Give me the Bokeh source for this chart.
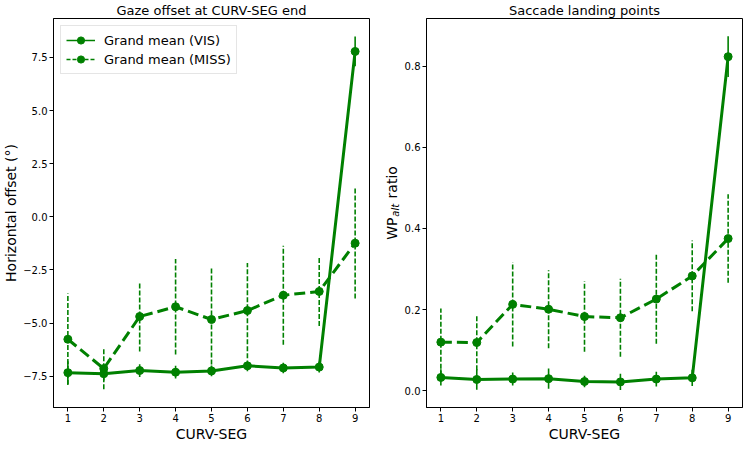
import numpy as np
from bokeh.plotting import figure
from bokeh.layouts import row
from bokeh.models import Range1d, FixedTicker, Legend, LegendItem, Label
from bokeh.embed import file_html
from bokeh.resources import INLINE

GREEN = "#008000"
FONT = "DejaVu Sans"

segs = [1, 2, 3, 4, 5, 6, 7, 8, 9]

gaze_vis = [-7.33, -7.38, -7.23, -7.31, -7.25, -7.01, -7.11, -7.07, 7.78]
gaze_vis_err = [0.53, 0.32, 0.3, 0.3, 0.25, 0.25, 0.25, 0.25, 0.7]
gaze_miss = [-5.76, -7.14, -4.69, -4.23, -4.83, -4.41, -3.69, -3.51, -1.24]
gaze_miss_err = [2.15, 0.97, 1.65, 2.25, 2.45, 2.24, 2.33, 1.63, 2.6]

land_vis = [0.033, 0.028, 0.029, 0.030, 0.023, 0.022, 0.029, 0.032, 0.823]
land_vis_err = [0.02, 0.025, 0.016, 0.025, 0.014, 0.02, 0.018, 0.02, 0.05]
land_miss = [0.120, 0.119, 0.213, 0.201, 0.183, 0.180, 0.226, 0.283, 0.375]
land_miss_err = [0.083, 0.068, 0.104, 0.096, 0.087, 0.096, 0.110, 0.087, 0.109]

gaze_yticks = [-7.5, -5.0, -2.5, 0.0, 2.5, 5.0, 7.5]
gaze_ylabels = ["\u22127.5", "\u22125.0", "\u22122.5", "0.0", "2.5", "5.0", "7.5"]
land_yticks = [0.0, 0.2, 0.4, 0.6, 0.8]
land_ylabels = ["0.0", "0.2", "0.4", "0.6", "0.8"]

FW, FH = 316, 389
BT, BB = 13, 38


def make_panel(title, yrange, yticks, ylabels, vis, vis_err, miss, miss_err,
               bl, br, ylabel, legend=False):
    p = figure(frame_width=FW, frame_height=FH, output_backend="svg",
               toolbar_location=None,
               x_range=Range1d(0.6, 9.4), y_range=yrange,
               min_border_left=bl, min_border_right=br, min_border_top=BT,
               min_border_bottom=BB, title=title)
    p.title.align = "center"
    p.title.text_font = FONT
    p.title.text_font_size = "13px"
    p.title.text_font_style = "normal"
    p.title.text_color = "black"
    p.title.standoff = 1
    p.grid.visible = False
    p.outline_line_color = "black"
    p.outline_line_width = 1
    p.background_fill_color = "white"
    p.border_fill_color = "white"
    for ax in (p.xaxis[0], p.yaxis[0]):
        ax.axis_line_color = "black"
        ax.major_tick_line_color = "black"
        ax.major_tick_in = 0
        ax.major_tick_out = 4
        ax.minor_tick_line_color = None
        ax.major_label_text_font = FONT
        ax.major_label_text_font_size = "10px"
        ax.major_label_text_color = "black"
        ax.axis_label_text_font = FONT
        ax.axis_label_text_font_size = "14px"
        ax.axis_label_text_font_style = "normal"
        ax.axis_label_text_color = "black"
        ax.major_label_standoff = 2
        ax.axis_label_standoff = 1
    p.xaxis.ticker = FixedTicker(ticks=segs)
    p.xaxis.axis_label = "CURV-SEG"
    p.yaxis.ticker = FixedTicker(ticks=yticks)
    p.yaxis.major_label_overrides = {t: l for t, l in zip(yticks, ylabels)}
    if ylabel:
        p.yaxis.axis_label = ylabel

    x = np.array(segs, dtype=float)
    v = np.array(vis); ve = np.array(vis_err)
    m = np.array(miss); me = np.array(miss_err)

    p.segment(x0=x, y0=v - ve, x1=x, y1=v + ve, line_color=GREEN, line_width=1.6)
    p.line(x, v, line_color=GREEN, line_width=3)
    p.scatter(x, v, size=8, fill_color=GREEN, line_color=GREEN)

    p.segment(x0=x, y0=m - me, x1=x, y1=m + me, line_color=GREEN, line_width=1.6,
              line_dash="5 2")
    p.line(x, m, line_color=GREEN, line_width=3, line_dash="11 5")
    p.scatter(x, m, size=8, fill_color=GREEN, line_color=GREEN)

    if legend:
        nan = [float("nan")]
        l1 = p.line(nan, nan, line_color=GREEN, line_width=1.5)
        s1 = p.scatter(nan, nan, size=7, fill_color=GREEN, line_color=GREEN)
        l2 = p.line(nan, nan, line_color=GREEN, line_width=1.5, line_dash="4 2")
        s2 = p.scatter(nan, nan, size=7, fill_color=GREEN, line_color=GREEN)
        leg = Legend(items=[LegendItem(label="Grand mean (VIS)", renderers=[l1, s1]),
                            LegendItem(label="Grand mean (MISS)", renderers=[l2, s2])],
                     location="top_left")
        leg.margin = 7
        leg.padding = 5
        leg.spacing = 1
        leg.glyph_width = 29
        leg.glyph_height = 18
        leg.label_standoff = 9
        leg.label_text_font = FONT
        leg.label_text_font_size = "13px"
        leg.label_text_color = "black"
        leg.label_height = 18
        leg.border_line_color = "#cccccc"
        leg.background_fill_alpha = 0.8
        p.add_layout(leg, "center")
    return p


p1 = make_panel("Gaze offset at CURV-SEG end", Range1d(-8.97, 9.33), gaze_yticks, gaze_ylabels,
                gaze_vis, gaze_vis_err, gaze_miss, gaze_miss_err,
                bl=42, br=10, ylabel="Horizontal offset (\u00b0)", legend=True)

land_range = Range1d(-0.041, 0.917)
p2 = make_panel("Saccade landing points", land_range, land_yticks, land_ylabels,
                land_vis, land_vis_err, land_miss, land_miss_err,
                bl=24, br=2, ylabel=None)

# narrow strip holding the y-axis label "WP_alt ratio" (italic subscript)
pl = figure(frame_width=22, frame_height=FH, output_backend="svg", toolbar_location=None,
            x_range=Range1d(0, 1), y_range=land_range,
            x_axis_location=None, y_axis_location=None,
            min_border_left=0, min_border_right=0, min_border_top=BT, min_border_bottom=BB)
pl.grid.visible = False
pl.outline_line_color = None
pl.add_layout(Label(x=12, y=0.372, text="WP", angle=np.pi / 2, text_font=FONT,
                    text_font_size="14px", text_align="left", text_baseline="middle",
                    text_color="black", x_units="screen", y_units="data"))
pl.add_layout(Label(x=16, y=0.429, text="alt", angle=np.pi / 2, text_font=FONT,
                    text_font_size="10px", text_font_style="italic", text_align="left",
                    text_baseline="middle", text_color="black",
                    x_units="screen", y_units="data"))
pl.add_layout(Label(x=12, y=0.474, text="ratio", angle=np.pi / 2, text_font=FONT,
                    text_font_size="14px", text_align="left", text_baseline="middle",
                    text_color="black", x_units="screen", y_units="data"))

layout = row(p1, pl, p2, spacing=0)
open("out.html", "w").write(file_html(layout, INLINE))
